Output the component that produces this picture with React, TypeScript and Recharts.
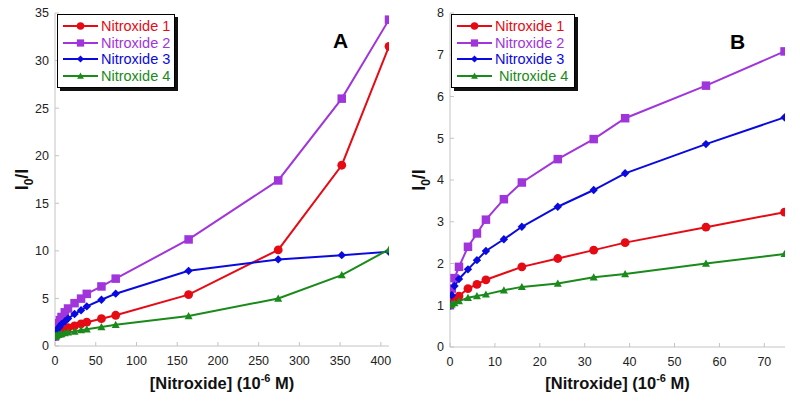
import React from 'react';
import { LineChart, Line, XAxis, YAxis, Legend } from 'recharts';

// low-concentration range, shared by both panels (10^-6 M)
const xLow = [0, 0.4, 1, 2, 4, 6, 8, 12, 16, 24, 32, 39, 57, 74.5];
const xLowRed = [0, 0.4, 1, 2, 4, 6, 8, 16, 24, 32, 39, 57, 74.5];
const xHigh = [164, 274, 352, 410];

const n1Low = [1.0, 1.05, 1.12, 1.22, 1.4, 1.5, 1.61, 1.92, 2.12, 2.32, 2.5, 2.87, 3.23];
const n2Low = [1.0, 1.4, 1.65, 1.92, 2.4, 2.72, 3.05, 3.54, 3.94, 4.5, 4.98, 5.48, 6.26, 7.08];
const n3Low = [1.0, 1.24, 1.46, 1.63, 1.86, 2.08, 2.3, 2.58, 2.88, 3.36, 3.76, 4.16, 4.86, 5.5];
const n4Low = [1.0, 1.02, 1.05, 1.1, 1.18, 1.22, 1.26, 1.36, 1.44, 1.52, 1.67, 1.75, 2.0, 2.23];

const n1High = [5.4, 10.1, 19.0, 31.5];
const n2High = [11.2, 17.4, 26.0, 34.3];
const n3High = [7.9, 9.1, 9.55, 9.9];
const n4High = [3.15, 5.0, 7.45, 10.15];

const ticksA_x = [0, 50, 100, 150, 200, 250, 300, 350, 400];
const ticksA_y = [0, 5, 10, 15, 20, 25, 30, 35];
const ticksB_x = [0, 10, 20, 30, 40, 50, 60, 70];
const ticksB_y = [0, 1, 2, 3, 4, 5, 6, 7, 8];

const names = ['Nitroxide 1', 'Nitroxide 2', 'Nitroxide 3', 'Nitroxide 4'];
const colors = ['#e60a14', '#a035dc', '#0a0ae0', '#1a8a1a'];
const shapes = ['circle', 'square', 'diamond', 'triangle'];

const rows = (xs: number[], ys: number[]) => xs.map((x, i) => ({ x, y: ys[i] }));

const lowSets = [rows(xLowRed, n1Low), rows(xLow, n2Low), rows(xLow, n3Low), rows(xLow, n4Low)];
const highSets = [rows(xHigh, n1High), rows(xHigh, n2High), rows(xHigh, n3High), rows(xHigh, n4High)];
const fullSets = lowSets.map((s, i) => s.concat(highSets[i]));

const GRAY = '#c4c4c4';
const FONT = '"Liberation Sans", Arial, sans-serif';

const Marker = ({ cx, cy, shape, color, big }: any) => {
  if (cx == null || cy == null) return null;
  const k = big ? 1 : 0.85;
  if (shape === 'circle') return <circle cx={cx} cy={cy} r={4.4 * k} fill={color} />;
  if (shape === 'square') {
    const s = 8.5 * k;
    return <rect x={cx - s / 2} y={cy - s / 2} width={s} height={s} fill={color} />;
  }
  if (shape === 'diamond') {
    const s = 4.2 * k;
    return <polygon points={`${cx},${cy - s} ${cx + s},${cy} ${cx},${cy + s} ${cx - s},${cy}`} fill={color} />;
  }
  const s = 4 * k;
  return <polygon points={`${cx},${cy - s} ${cx + s},${cy + s * 0.8} ${cx - s},${cy + s * 0.8}`} fill={color} />;
};

const LegendBox = ({ indentLast, w }: any) => (
  <div style={{ position: 'relative', width: w + 4, height: 76 }}>
    <div style={{ position: 'absolute', left: 3, top: 3, width: w, height: 74, background: '#111' }} />
    <div style={{ position: 'absolute', left: 0, top: 0, width: w - 2, height: 72, background: '#fff', border: '1px solid #000' }}>
      {names.map((n, i) => (
        <div key={n} style={{ position: 'absolute', left: 5, top: 3 + i * 16.5, height: 16, display: 'flex', alignItems: 'center', whiteSpace: 'nowrap' }}>
          <svg width={35} height={12}>
            <line x1={0} y1={6} x2={35} y2={6} stroke={colors[i]} strokeWidth={2} />
            <Marker cx={17.5} cy={6} shape={shapes[i]} color={colors[i]} big={false} />
          </svg>
          <span style={{ marginLeft: indentLast && i === 3 ? 7 : 3, color: colors[i], fontFamily: FONT, fontSize: 14.5, lineHeight: '16px', whiteSpace: 'nowrap' }}>{n}</span>
        </div>
      ))}
    </div>
  </div>
);

const YLab = ({ x, viewBox }: any) => {
  const cy = viewBox.y + viewBox.height / 2;
  return (
    <text x={x} y={cy} transform={`rotate(-90, ${x}, ${cy})`} textAnchor="middle" fontFamily={FONT} fontWeight="bold" fontSize={18} fill="#111">
      I<tspan fontSize={12} dy={5}>0</tspan><tspan dy={-5}>/I</tspan>
    </text>
  );
};

const XLab = ({ viewBox }: any) => {
  const cx = viewBox.x + viewBox.width / 2;
  return (
    <text x={cx} y={389} textAnchor="middle" fontFamily={FONT} fontWeight="bold" fontSize={16.5} fill="#111">
      [Nitroxide] (10<tspan fontSize={11} dy={-7}>-6</tspan><tspan dy={7}> M)</tspan>
    </text>
  );
};

const tickStyle = { fontFamily: FONT, fontSize: 12.5, fill: '#222' };

const Panel = ({ sets, xDomain, xTicks, yDomain, yTicks, yWidth, right, xHeight, letter, letterLeft, letterTop, legendLeft, legendW, indentLast, yLabX }: any) => (
  <div style={{ position: 'relative', width: 400, height: 403 }}>
    <LineChart width={400} height={403} data={sets[0]} margin={{ top: 13, right, bottom: 0, left: 0 }}>
      <XAxis xAxisId="b" type="number" dataKey="x" domain={xDomain} ticks={xTicks} allowDataOverflow
        height={xHeight} stroke={GRAY} tickSize={-4} tickMargin={14} tick={tickStyle}
        label={<XLab />} />
      <XAxis xAxisId="t" orientation="top" type="number" dataKey="x" domain={xDomain} ticks={xTicks} allowDataOverflow
        height={0} stroke={GRAY} tickSize={-4} tick={() => null} />
      <YAxis yAxisId="l" type="number" domain={yDomain} ticks={yTicks} width={yWidth} stroke={GRAY}
        tickSize={-4} tickMargin={10} tick={tickStyle} label={<YLab x={yLabX} />} />
      <YAxis yAxisId="r" orientation="right" type="number" domain={yDomain} ticks={yTicks} width={0} stroke={GRAY}
        tickSize={-4} tick={() => null} />
      {sets.map((s: any, i: number) => (
        <Line key={names[i]} xAxisId="b" yAxisId="l" data={s} dataKey="y" name={names[i]} stroke={colors[i]}
          strokeWidth={2} isAnimationActive={false}
          dot={(p: any) => <Marker key={`${i}-${p.index}`} cx={p.cx} cy={p.cy} shape={shapes[i]} color={colors[i]} big />} />
      ))}
      <Legend layout="vertical" align="center" verticalAlign="middle"
        wrapperStyle={{ left: legendLeft, top: 14, width: legendW + 4 }}
        content={() => <LegendBox indentLast={indentLast} w={legendW} />} />
    </LineChart>
    <div style={{ position: 'absolute', left: letterLeft, top: letterTop, fontFamily: FONT, fontWeight: 'bold', fontSize: 21, lineHeight: '21px', color: '#000' }}>
      {letter}
    </div>
  </div>
);

export default function App() {
  return (
    <div style={{ position: 'absolute', left: 0, top: 0, width: 800, height: 403, background: '#fff', display: 'flex' }}>
      <Panel sets={fullSets} xDomain={[0, 410]} xTicks={ticksA_x} yDomain={[0, 35]} yTicks={ticksA_y}
        yWidth={55} right={11} xHeight={57} letter="A" letterLeft={333} letterTop={30}
        legendLeft={57} legendW={118} indentLast={false} yLabX={15} />
      <Panel sets={lowSets} xDomain={[0, 74.6]} xTicks={ticksB_x} yDomain={[0, 8]} yTicks={ticksB_y}
        yWidth={50} right={15} xHeight={56} letter="B" letterLeft={330} letterTop={31}
        legendLeft={51} legendW={124} indentLast yLabX={12} />
    </div>
  );
}
